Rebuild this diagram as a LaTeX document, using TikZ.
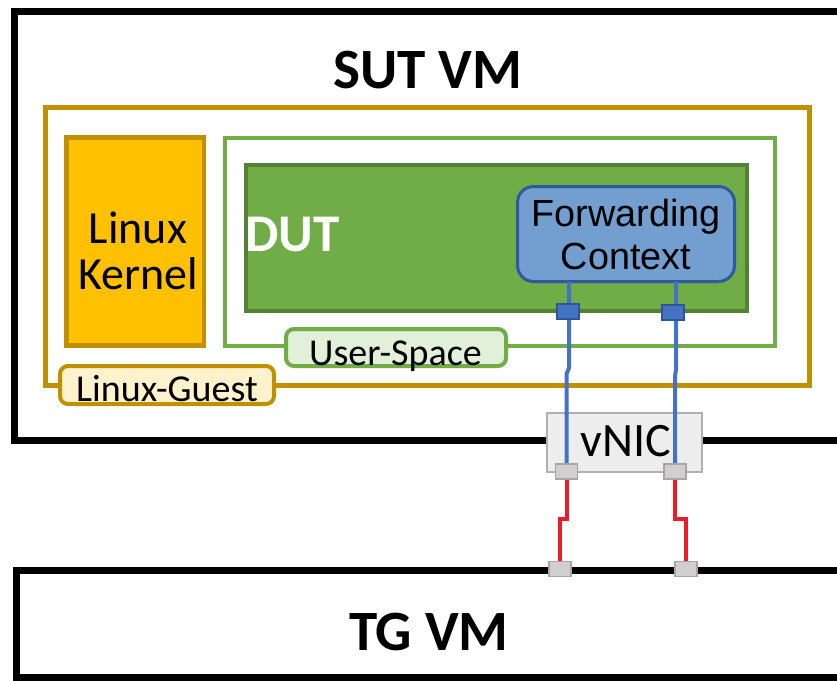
\documentclass[tikz,border=0pt]{standalone}
\usepackage{fontspec}
\setmainfont{Carlito}
\newfontfamily\arialf{Liberation Sans}
\usetikzlibrary{backgrounds}
\pgfdeclarelayer{front}
\pgfsetlayers{main,front}
\definecolor{gold}{HTML}{BF9000}
\definecolor{kern}{HTML}{FFC000}
\definecolor{grn}{HTML}{70AD47}
\definecolor{dgrn}{HTML}{548235}
\definecolor{lgrn}{HTML}{E2F0D9}
\definecolor{lgold}{HTML}{FFF2CC}
\definecolor{fcfill}{RGB}{114,159,207}
\definecolor{fcdraw}{RGB}{47,90,160}
\definecolor{wireblue}{HTML}{4472C4}
\definecolor{portblue}{HTML}{2F5597}
\definecolor{wirered}{HTML}{ED1C24}
\definecolor{vnicfill}{HTML}{EDEDED}
\definecolor{vnicdraw}{HTML}{B0B0B0}
\definecolor{portfill}{HTML}{D0CECE}
\definecolor{portdraw}{HTML}{A6A6A6}
\tikzset{
  shp/.style={rectangle, inner sep=0pt, outer sep=0pt},
  vmbox/.style={shp, draw=black, line width=7pt, fill=white},
  guestbox/.style={shp, draw=gold, line width=4.5pt},
  kernbox/.style={shp, draw=gold, fill=kern, line width=4.5pt},
  userbox/.style={shp, draw=grn, line width=4pt},
  dutbox/.style={shp, draw=dgrn, fill=grn, line width=4.5pt},
  fcbox/.style={shp, draw=fcdraw, fill=fcfill, line width=3pt, rounded corners=16pt},
  vnicbox/.style={shp, draw=vnicdraw, fill=vnicfill, line width=2pt},
  lbl/.style={shp, line width=4pt, rounded corners=8pt},
  bport/.style={shp, draw=portblue, fill=wireblue, line width=1.5pt, minimum width=22pt, minimum height=15pt},
  gport/.style={shp, draw=portdraw, fill=portfill, line width=1.5pt, minimum width=22pt, minimum height=15pt},
  bluewire/.style={draw=wireblue, line width=4pt},
  redwire/.style={draw=wirered, line width=4pt},
  txt/.style={inner sep=0pt, outer sep=0pt},
}
\begin{document}
\begin{tikzpicture}[x=1pt,y=-1pt]
\useasboundingbox (0,0) rectangle (837,680);
\clip (0,0) rectangle (837,680);
% boxes
\node[vmbox, minimum width=845.5pt, minimum height=429pt] (sut) at (437.25,226) {};
\node[vmbox, minimum width=843.5pt, minimum height=107pt] (tg) at (438.25,624) {};
\node[guestbox, minimum width=764pt, minimum height=278pt] (guest) at (427.5,246.5) {};
\node[kernbox, minimum width=137.5pt, minimum height=208pt] (kernel) at (135.25,241.5) {};
\node[userbox, minimum width=550pt, minimum height=208pt] (user) at (500,241.5) {};
\node[dutbox, minimum width=501pt, minimum height=146pt] (dut) at (496.5,238) {};
\node[fcbox, minimum width=217pt, minimum height=95pt] (fc) at (626,234) {};
\node[lbl, draw=grn, fill=lgrn, minimum width=220pt, minimum height=37pt] (ulab) at (396,347.5) {};
\node[lbl, draw=gold, fill=lgold, minimum width=214pt, minimum height=38pt] (glab) at (167,385) {};
\node[vnicbox, minimum width=155pt, minimum height=59pt] (vnic) at (624.5,442.5) {};
% texts
\node[txt, anchor=base, font=\fontsize{57}{57}\selectfont\bfseries] (sutt) at (428,88) {SUT VM};
\node[txt, anchor=base, font=\fontsize{57}{57}\selectfont\bfseries] (tgt) at (429,650) {TG VM};
\node[txt, align=center, font=\fontsize{46}{46}\selectfont] (kernt) at (138,250.5) {Linux\\Kernel};
\node[txt, anchor=west, text=white, font=\fontsize{53}{53}\selectfont\bfseries] (dutt) at (245,234.5) {DUT};
\node[txt, align=center, font=\arialf\fontsize{37.8}{43}\selectfont] (fct) at (626,234) {Forwarding\\Context};
\node[txt, anchor=base, font=\fontsize{38}{38}\selectfont] (ult) at (395.5,365.5) {User-Space};
\node[txt, anchor=base, font=\fontsize{38}{38}\selectfont] (glt) at (167,401) {Linux-Guest};
\node[txt, font=\fontsize{48}{48}\selectfont] (vnict) at (625.5,441.5) {vNIC};
% ports
\begin{pgfonlayer}{front}
\node[bport] (bp1) at (568,311.5) {};
\node[bport] (bp2) at (673,312.5) {};
\node[gport] (vp1) at (566.5,471.5) {};
\node[gport] (vp2) at (675,471.5) {};
\node[gport] (tp1) at (560,569) {};
\node[gport] (tp2) at (686,569) {};
\end{pgfonlayer}
% wires
\coordinate (b1a) at (569,368);
\coordinate (b1b) at (566.5,374);
\coordinate (b2a) at (676,370);
\coordinate (b2b) at (675,376);
\draw[bluewire] (fc.south -| b1a) -- (b1a) -- (b1b) -- (vp1.center);
\draw[bluewire] (fc.south -| b2a) -- (b2a) -- (b2b) -- (vp2.center);
\coordinate (r1a) at (566.5,519);
\coordinate (r1b) at (560,519);
\coordinate (r2a) at (675,519);
\coordinate (r2b) at (686,519);
\draw[redwire] (vp1.center) -- (r1a) -- (r1b) -- (tp1.center);
\draw[redwire] (vp2.center) -- (r2a) -- (r2b) -- (tp2.center);
\end{tikzpicture}
\end{document}
